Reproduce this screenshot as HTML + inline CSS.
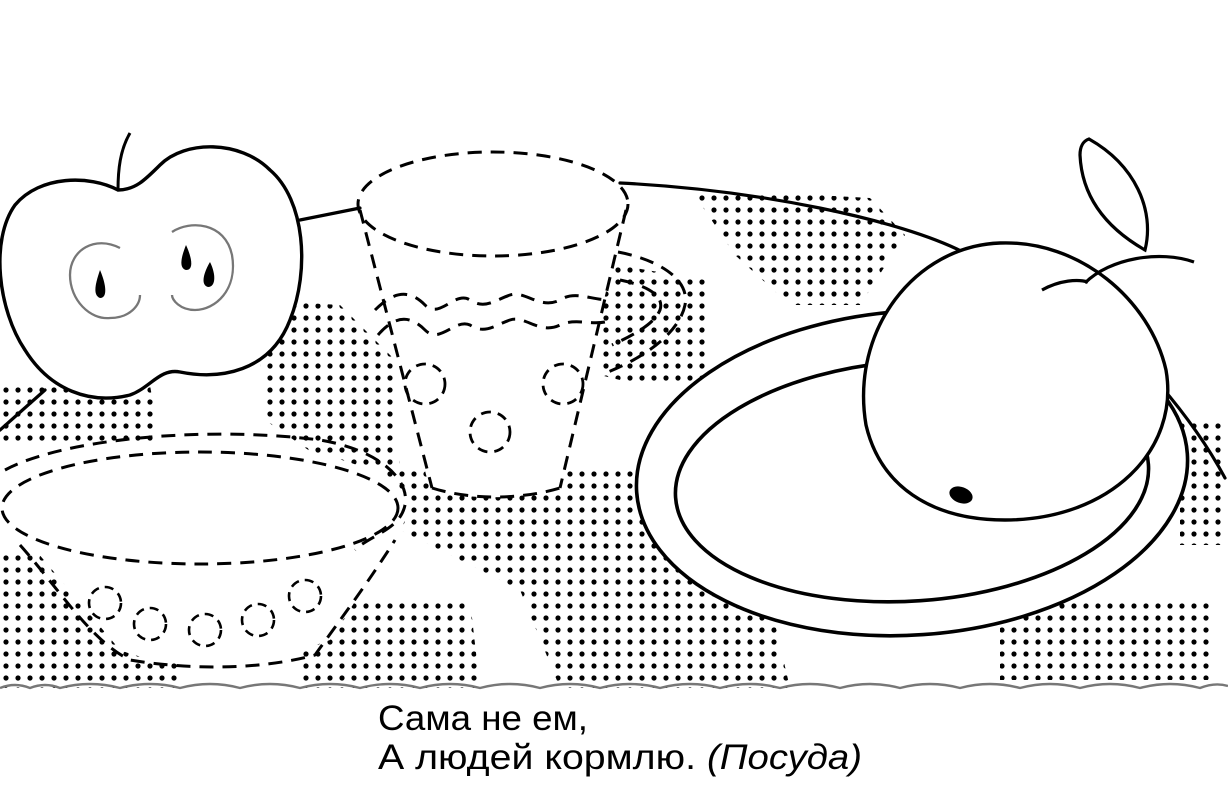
<!DOCTYPE html>
<html><head><meta charset="utf-8"><style>
html,body{margin:0;padding:0;background:#fff;}
svg{display:block;}
</style></head><body>
<svg width="1228" height="800" viewBox="0 0 1228 800" xmlns="http://www.w3.org/2000/svg">
<defs>
<pattern id="dots" width="12" height="12" patternUnits="userSpaceOnUse">
<circle cx="6" cy="6" r="2.6" fill="#000"/>
</pattern>
</defs>
<rect width="1228" height="800" fill="#fff"/>
<g fill="url(#dots)">
<polygon points="690,188 870,198 905,235 860,305 790,305 735,255"/>
<polygon points="600,262 705,280 712,380 640,385 600,375"/>
<polygon points="255,300 340,305 395,360 400,470 330,465 265,420"/>
<polygon points="0,385 150,385 160,445 0,445"/>
<polygon points="0,555 170,555 180,688 0,688"/>
<polygon points="300,600 470,600 480,688 300,688"/>
<polygon points="380,470 640,470 760,560 790,688 560,688 520,590 400,530"/>
<polygon points="1000,598 1215,598 1215,680 1000,680"/>
<polygon points="1180,420 1222,420 1222,545 1180,545"/>
</g>
<g fill="none" stroke="#000" stroke-width="3.2" stroke-linecap="round">
<path d="M300,220 L360,208"/>
<path d="M620,183 C760,190 900,220 963,252"/>
<path d="M1160,385 C1190,420 1210,450 1225,478"/>
<path d="M45,390 L0,430"/>
</g>
<!-- left apple -->
<path d="M118,190 C90,175 40,175 15,205 C-10,240 -2,310 25,350 C50,390 90,405 130,395 C150,388 160,368 180,372 C220,380 270,372 290,320 C310,270 305,200 270,170 C240,140 185,140 160,165 C145,180 135,190 118,190 Z" fill="#fff" stroke="#000" stroke-width="3.4"/>
<path d="M118,190 C118,170 120,150 130,133" fill="none" stroke="#000" stroke-width="3"/>
<g fill="none" stroke="#777" stroke-width="2.3">
<path d="M120,248 C95,235 70,250 70,275 C70,300 90,320 110,318 C130,318 140,305 140,295"/>
<path d="M172,232 C190,220 225,222 232,255 C238,290 215,310 195,310 C180,310 172,300 172,295"/>
</g>
<g fill="#000">
<path d="M100,270 C96,282 92,295 100,298 C108,298 106,284 100,270Z"/>
<path d="M186,245 C182,255 178,268 186,270 C194,270 192,258 186,245Z"/>
<path d="M210,262 C204,272 200,285 208,287 C216,287 216,274 210,262Z"/>
</g>
<!-- cup handle -->
<g fill="none" stroke="#000" stroke-width="3" stroke-dasharray="14 9">
<path d="M618,252 C660,260 690,280 685,305 C680,330 650,355 608,372"/>
<path d="M620,280 C645,285 665,295 660,310 C655,322 640,332 612,345"/>
</g>
<path d="M358,210 L430,490 C470,500 520,500 560,488 L625,210 Z" fill="#fff"/>
<g fill="none" stroke="#000" stroke-width="3" stroke-dasharray="14 9">
<ellipse cx="493" cy="204" rx="135" ry="52"/>
<path d="M360,210 L432,488"/>
<path d="M626,210 L560,488"/>
<path d="M432,488 C470,500 520,500 560,488"/>
<path d="M375,310 C395,290 410,290 425,305 C440,320 455,290 470,300 C485,310 495,300 510,295 C525,290 540,310 560,300 C575,290 590,300 610,300"/>
<path d="M378,335 C395,315 410,315 425,330 C440,345 455,318 470,325 C485,335 495,325 510,320 C525,315 540,335 560,325 C575,318 590,325 605,322"/>
</g>
<g fill="none" stroke="#000" stroke-width="2.8" stroke-dasharray="10 7">
<circle cx="425" cy="384" r="20"/>
<circle cx="563" cy="384" r="20"/>
<circle cx="490" cy="432" r="20"/>
</g>
<!-- bowl -->
<path d="M5,470 C60,430 350,425 405,495 C410,520 400,530 395,540 L330,640 C250,670 170,670 120,650 L10,520 Z" fill="#fff"/>
<g fill="none" stroke="#000" stroke-width="3" stroke-dasharray="14 9">
<path d="M5,470 C60,440 200,425 320,440 C380,450 410,480 405,505 C400,530 370,535 355,550"/>
<ellipse cx="200" cy="508" rx="198" ry="56"/>
<path d="M20,545 C60,590 90,640 130,660 C190,670 260,670 315,655 C340,620 370,580 395,540"/>
</g>
<g fill="none" stroke="#000" stroke-width="2.6" stroke-dasharray="9 6">
<circle cx="105" cy="603" r="16"/>
<circle cx="150" cy="624" r="16"/>
<circle cx="205" cy="630" r="16"/>
<circle cx="258" cy="620" r="16"/>
<circle cx="305" cy="596" r="16"/>
</g>
<!-- plate -->
<ellipse cx="912" cy="473" rx="276" ry="162" transform="rotate(-4 912 473)" fill="#fff" stroke="#000" stroke-width="3.6"/>
<ellipse cx="912" cy="481" rx="237" ry="120" transform="rotate(-4 912 481)" fill="#fff" stroke="#000" stroke-width="3.6"/>
<!-- apple on plate -->
<path d="M1000,243 C1080,240 1150,300 1166,370 C1180,450 1110,520 1005,520 C930,520 880,485 866,425 C850,330 915,246 1000,243 Z" fill="#fff" stroke="#000" stroke-width="3.4"/>
<g fill="none" stroke="#000" stroke-width="3.2">
<path d="M1042,290 C1060,280 1078,279 1088,282"/>
<path d="M1085,283 C1110,258 1160,250 1194,262"/>
<path d="M1145,250 C1110,230 1082,200 1080,155 C1080,147 1083,141 1089,139 C1135,165 1155,210 1145,250 Z"/>
</g>
<ellipse cx="961" cy="495" rx="12" ry="8" transform="rotate(20 961 495)" fill="#000"/>
<path d="M0,688 Q15,682 30,688 Q45,682 60,688 Q90,680 120,688 Q150,680 180,688 Q210,680 240,688 Q270,680 300,688 Q330,680 360,688 Q390,680 420,688 Q450,680 480,688 Q510,680 540,688 Q570,680 600,688 Q630,680 660,688 Q690,680 720,688 Q750,680 780,688 Q810,680 840,688 Q870,680 900,688 Q930,680 960,688 Q990,680 1020,688 Q1050,680 1080,688 Q1110,680 1140,688 Q1170,680 1200,688 Q1215,682 1228,686" fill="none" stroke="#777" stroke-width="2.4"/>
<g font-family="'Liberation Sans', 'DejaVu Sans', sans-serif" font-size="35" fill="#000">
<text x="378" y="730" textLength="210" lengthAdjust="spacingAndGlyphs">Сама не ем,</text>
<text x="378" y="769" textLength="318" lengthAdjust="spacingAndGlyphs">А людей кормлю.</text>
<text x="707" y="769" font-style="italic" textLength="155" lengthAdjust="spacingAndGlyphs">(Посуда)</text>
</g>
</svg>
</body></html>
